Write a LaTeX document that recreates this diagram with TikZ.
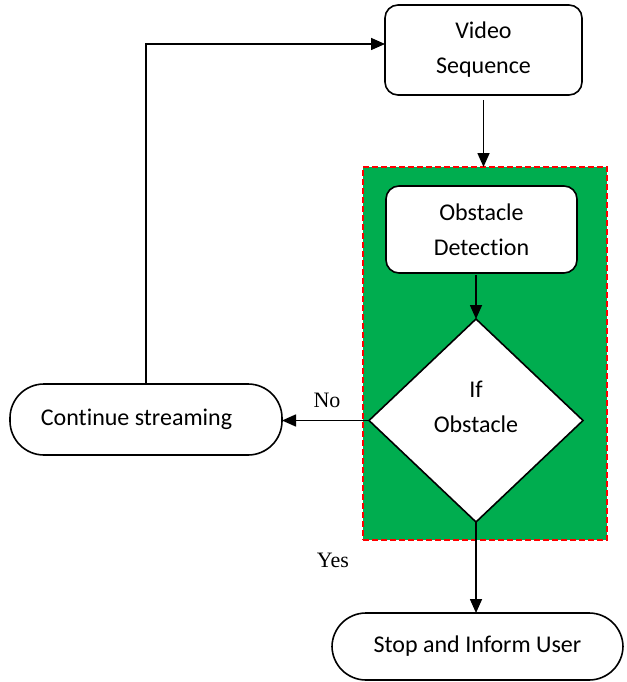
\documentclass[tikz,border=0pt]{standalone}
\usepackage{fontspec}
\setmainfont[Ligatures=NoCommon]{Carlito}
\newfontfamily\serifnum{Liberation Serif}
\usetikzlibrary{shapes.geometric,arrows.meta}
\definecolor{grpgreen}{HTML}{00AD4F}
\begin{document}
\begin{tikzpicture}[x=1pt,y=-1pt,
  every node/.style={inner sep=0pt,outer sep=0pt},
  boxtext/.style={font=\fontsize{24}{35}\selectfont,align=center},
  roundbox/.style={boxtext,draw=black,line width=1.6pt,fill=white,rectangle,rounded corners=13pt},
  stadium/.style={boxtext,draw=black,line width=1.6pt,fill=white,rectangle,rounded corners=34pt},
  decision/.style={boxtext,draw=black,line width=1.6pt,fill=white,diamond},
  lbl/.style={font=\serifnum\fontsize{22}{26}\selectfont},
  arr/.style={line width=1.6pt,-{Triangle[length=14pt,width=12pt]}}]
\useasboundingbox (0,0) rectangle (626,682);
% group background
\node[fill=grpgreen,draw=red,line width=1.2pt,dash pattern=on 6pt off 3pt,
      minimum width=244pt,minimum height=373pt] (grp) at (485,353.5) {};
% nodes
\node[roundbox,minimum width=197pt,minimum height=90pt] (vid) at (483.5,50) {Video\\Sequence};
\node[roundbox,minimum width=191pt,minimum height=87pt] (od) at (481.5,229.5) {Obstacle\\Detection};
\node[decision,minimum width=214pt,minimum height=203pt] (dec) at (476,420.5) {};
\node[boxtext] (dectext) at (476,407) {If\\Obstacle};
\node[stadium,minimum width=272pt,minimum height=71pt] (cont) at (146,419.5) {\hspace*{-19pt}Continue streaming};
\node[stadium,minimum width=291pt,minimum height=67pt] (stop) at (477.5,646.5) {Stop and Inform User};
% labels
\node[lbl] (no) at (327,400) {No};
\node[lbl] (yes) at (333,560) {Yes};
% connectors
\draw[arr,shorten <=5pt] (vid.south) -- (vid.south |- grp.north);
\draw[arr,shorten <=2pt] (od.south -| dec.north) -- (dec.north);
\draw[arr] (dec.west) -- (dec.west -| cont.east);
\draw[arr] (dec.south) -- (dec.south |- stop.north);
\draw[arr] (cont.north) |- ([yshift=6pt]vid.west);
\end{tikzpicture}
\end{document}
